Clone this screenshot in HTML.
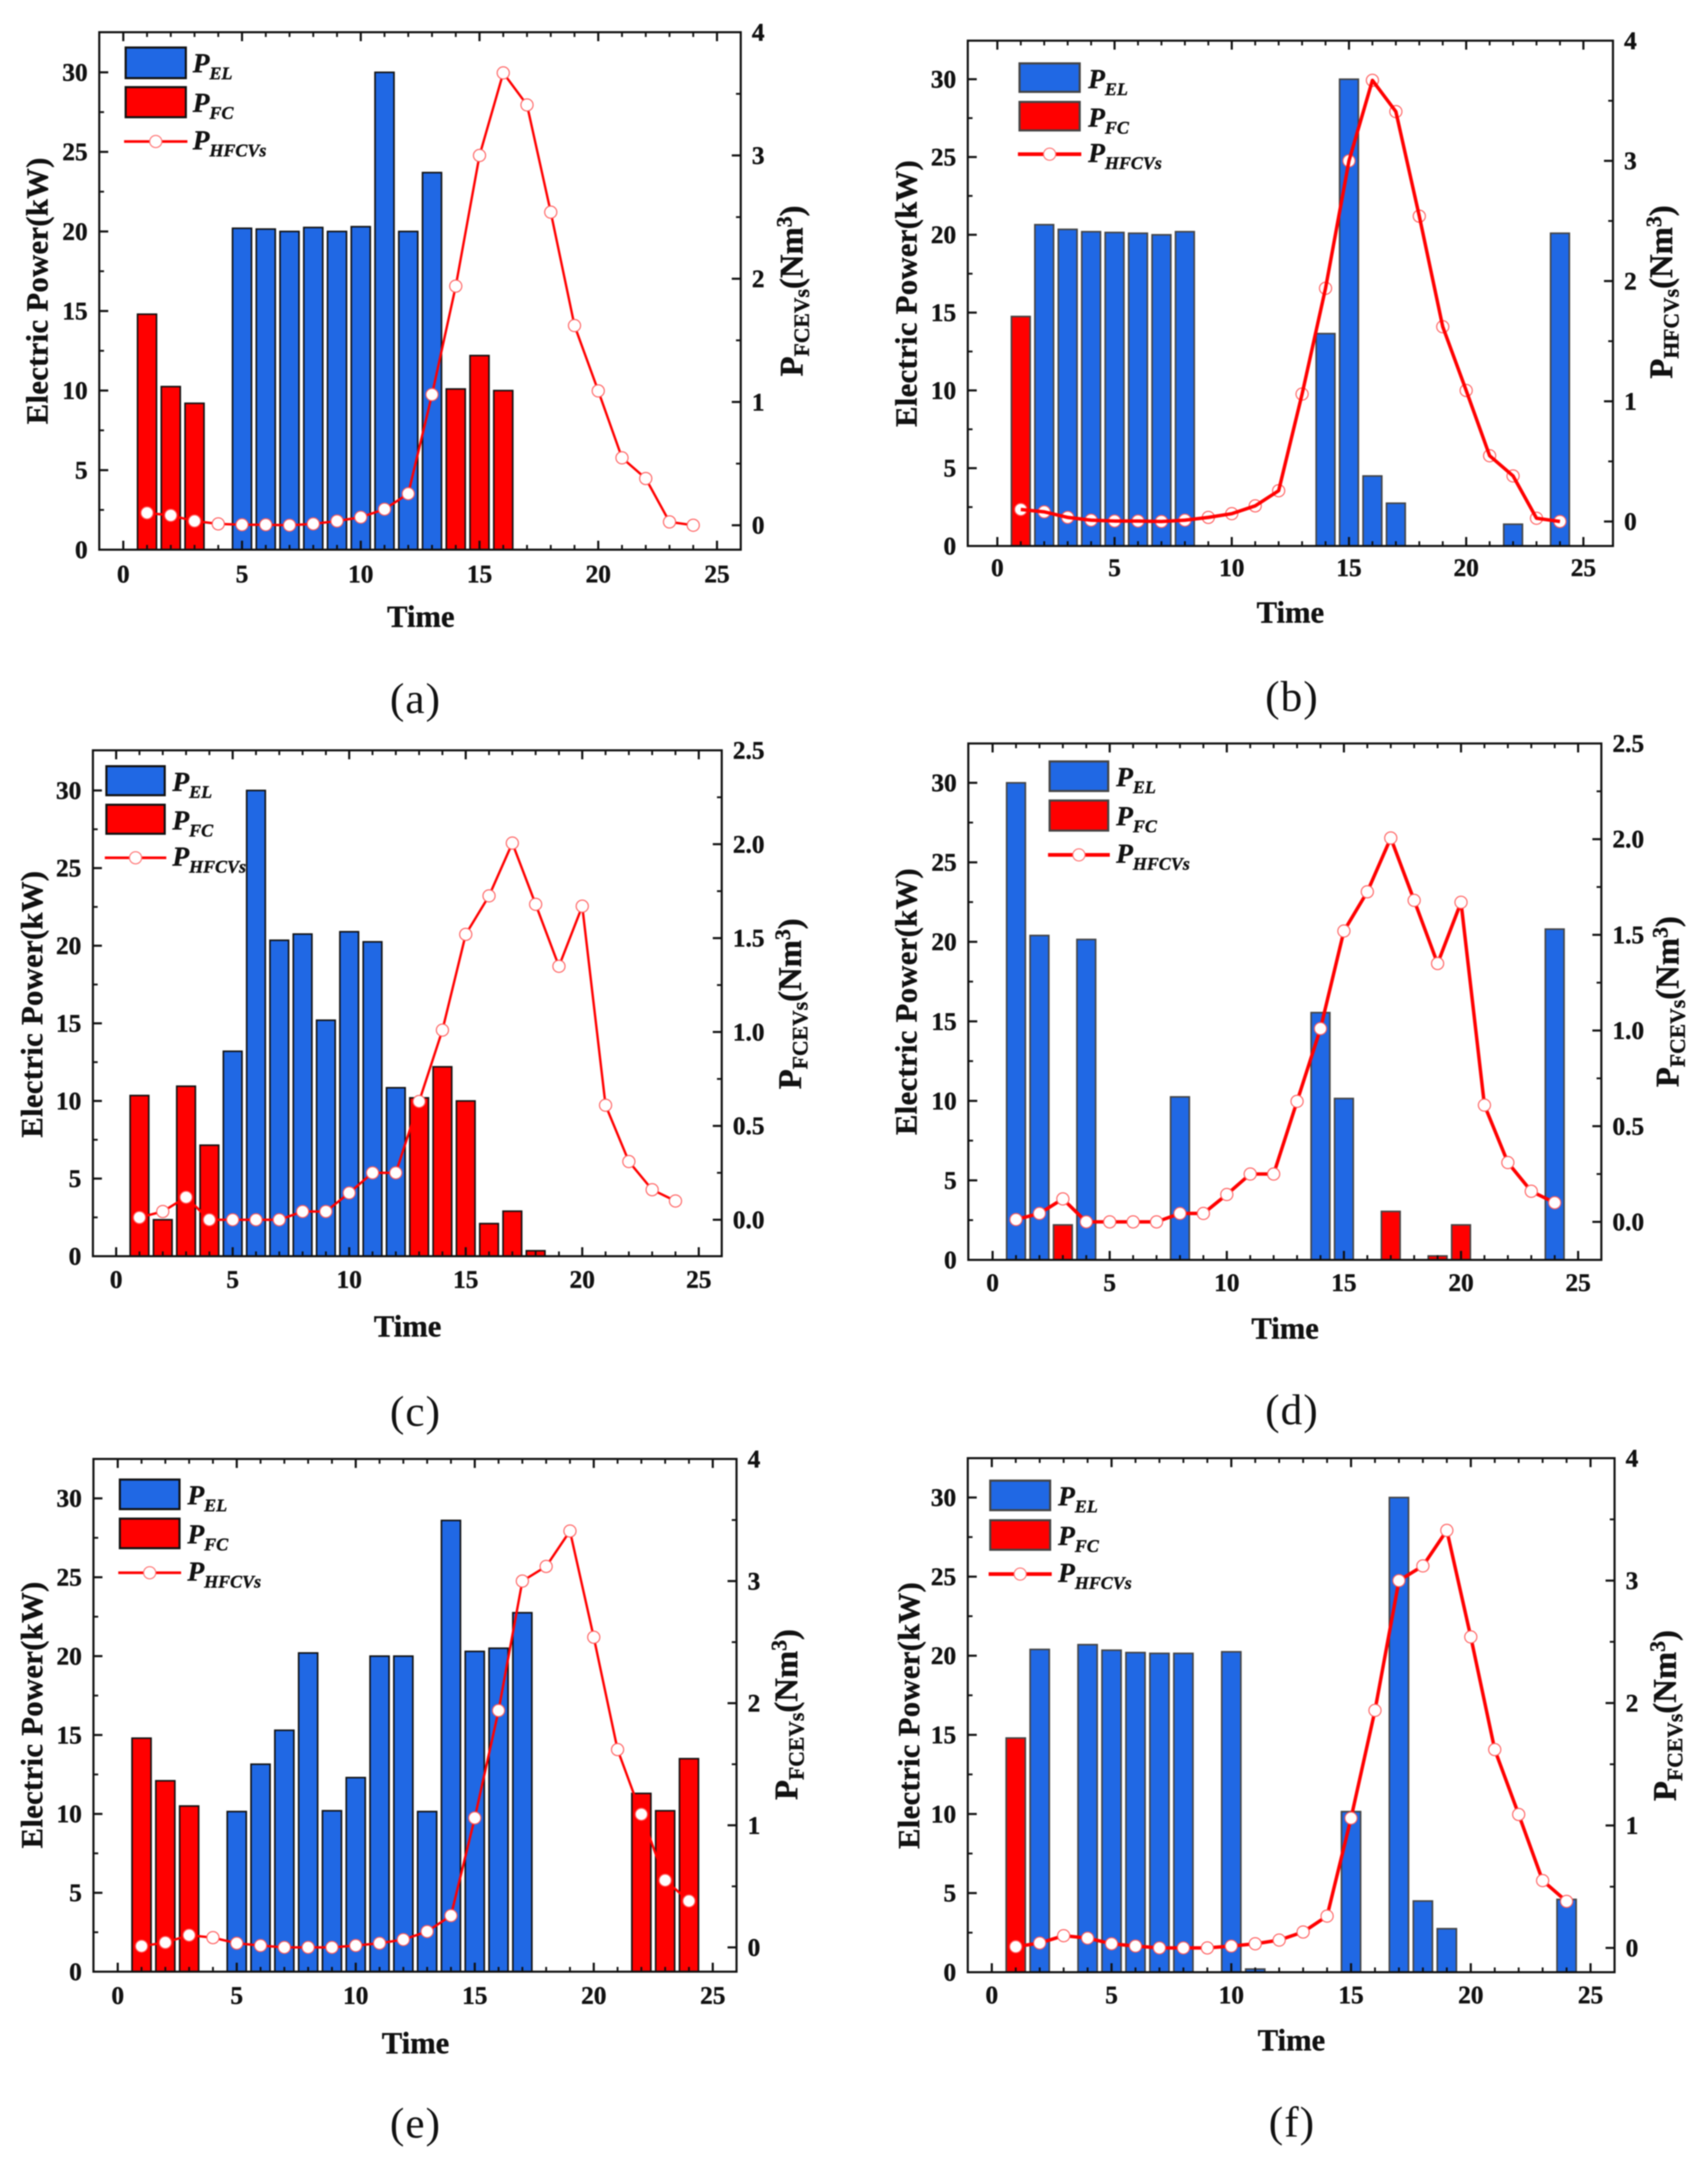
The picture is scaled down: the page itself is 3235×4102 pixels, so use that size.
<!DOCTYPE html>
<html lang="en">
<head>
<meta charset="utf-8">
<title>Electric power and hydrogen demand over time, panels a to f</title>
<style>
html,body{margin:0;padding:0;background:#fff;}
body{width:3235px;height:4102px;overflow:hidden;}
svg{display:block;}
text{font-family:"Liberation Serif",serif;fill:#111;}
text.bold{stroke:#111;stroke-width:0.7px;}
</style>
</head>
<body>
<svg id="figure" width="3235" height="4102" viewBox="0 0 3235 4102" xmlns="http://www.w3.org/2000/svg">
  <rect x="0" y="0" width="3235" height="4102" fill="#ffffff"/>
  <g id="wrap" style="filter:blur(1px)"></g>
</svg>
<script>
// Categories and tick labels
const hours = [1,2,3,4,5,6,7,8,9,10,11,12,13,14,15,16,17,18,19,20,21,22,23,24];
const xTickLabels = [0,5,10,15,20,25];
const leftTickLabels = [0,5,10,15,20,25,30];
const rightTickLabels4 = ["0","1","2","3","4"];
const rightTickLabels25 = ["0.0","0.5","1.0","1.5","2.0","2.5"];

// Panel (a)
const elA = [0,0,0,0,20.2,20.15,20.0,20.25,20.0,20.3,30,20,23.7,0,0,0,0,0,0,0,0,0,0,0];
const fcA = [14.8,10.25,9.2,0,0,0,0,0,0,0,0,0,0,10.1,12.2,10.0,0,0,0,0,0,0,0,0];
const h2A = [0.1,0.08,0.034,0.011,0.004,0.004,0,0.011,0.034,0.065,0.13,0.256,1.06,1.94,3.0,3.67,3.41,2.54,1.62,1.09,0.547,0.379,0.027,0];

// Panel (b)
const elB = [0,20.65,20.35,20.2,20.15,20.1,20.0,20.2,0,0,0,0,0,13.65,30,4.5,2.75,0,0,0,0,1.4,0,20.1];
const fcB = [14.75,0,0,0,0,0,0,0,0,0,0,0,0,0,0,0,0,0,0,0,0,0,0,0];
const h2B = [0.1,0.08,0.034,0.011,0.004,0.004,0,0.011,0.034,0.065,0.13,0.256,1.06,1.94,3.0,3.67,3.41,2.54,1.62,1.09,0.547,0.379,0.027,0];

// Panel (c)
const elC = [0,0,0,0,13.2,30,20.35,20.75,15.2,20.9,20.25,10.85,0,0,0,0,0,0,0,0,0,0,0,0];
const fcC = [10.35,2.35,10.95,7.15,0,0,0,0,0,0,0,0,10.2,12.2,10.0,2.1,2.9,0.35,0,0,0,0,0,0];
const h2C = [0.012,0.044,0.12,0,0,0,0,0.044,0.044,0.143,0.25,0.25,0.63,1.01,1.52,1.725,2.006,1.68,1.35,1.67,0.61,0.31,0.16,0.10];

// Panel (d)
const elD = [30,20.4,0,20.15,0,0,0,10.25,0,0,0,0,0,15.55,10.15,0,0,0,0,0,0,0,0,20.8];
const fcD = [0,0,2.2,0,0,0,0,0,0,0,0,0,0,0,0,0,3.05,0,0.25,2.2,0,0,0,0];
const h2D = [0.012,0.044,0.12,0,0,0,0,0.044,0.044,0.143,0.25,0.25,0.63,1.01,1.52,1.725,2.006,1.68,1.35,1.67,0.61,0.31,0.16,0.10];

// Panel (e)
const elE = [0,0,0,0,10.15,13.15,15.3,20.2,10.2,12.3,20,20,10.15,28.6,20.3,20.5,22.75,0,0,0,0,0,0,0];
const fcE = [14.8,12.1,10.5,0,0,0,0,0,0,0,0,0,0,0,0,0,0,0,0,0,0,11.3,10.2,13.5];
const h2E = [0.01,0.04,0.10,0.08,0.034,0.015,0,0,0,0.015,0.034,0.064,0.13,0.26,1.06,1.94,3.0,3.12,3.41,2.54,1.62,1.09,0.55,0.38];

// Panel (f)
const elF = [0,20.4,0,20.7,20.35,20.2,20.15,20.15,0,20.25,0.2,0,0,0,10.15,0,30,4.5,2.75,0,0,0,0,4.6];
const fcF = [14.8,0,0,0,0,0,0,0,0,0,0,0,0,0,0,0,0,0,0,0,0,0,0,0];
const h2F = [0.01,0.04,0.10,0.08,0.034,0.015,0,0,0,0.015,0.034,0.064,0.13,0.26,1.06,1.94,3.0,3.12,3.41,2.54,1.62,1.09,0.55,0.38];

const NS = "http://www.w3.org/2000/svg";
const wrap = document.getElementById("wrap");

function make(tag, parent, attrs, content) {
  const el = document.createElementNS(NS, tag);
  for (const k in attrs) el.setAttribute(k, attrs[k]);
  if (content !== undefined) el.textContent = content;
  parent.appendChild(el);
  return el;
}

const panels = [
  {id:"a", el:elA, fc:fcA, h2:h2A, l:188, r:1403, t:61, b:1041, x0:233.5, x25:1358, y30:137, r0:994.7, rMax:4, rTicks:rightTickLabels4,
   leg:{x:238, x2:352, y1:90, y2:148, y3:165, y4:222, ly:268, tx:365}, capX:787, capY:1350, timeX:797, timeY:1187, tickY:1103, ltX:77, ltY:551, rtX:1506, rtY:551, rName:"FCEVs", thick:false, lineOnTop:false},
  {id:"b", el:elB, fc:fcB, h2:h2B, l:1833, r:3055, t:77, b:1034, x0:1889, x25:2999, y30:150, r0:987.6, rMax:4, rTicks:rightTickLabels4,
   leg:{x:1931, x2:2045, y1:120, y2:174, y3:193, y4:247, ly:292, tx:2061}, capX:2447, capY:1346, timeX:2444, timeY:1179, tickY:1091, ltX:1723, ltY:556, rtX:3153, rtY:553, rName:"HFCVs", thick:true, lineOnTop:true},
  {id:"c", el:elC, fc:fcC, h2:h2C, l:176, r:1367, t:1421, b:2379, x0:220, x25:1323.5, y30:1497, r0:2310, rMax:2.5, rTicks:rightTickLabels25,
   leg:{x:201.5, x2:312, y1:1451, y2:1506, y3:1524, y4:1579, ly:1624.5, tx:326.5}, capX:787, capY:2700, timeX:772, timeY:2531, tickY:2439, ltX:67, ltY:1902, rtX:1503, rtY:1901, rName:"FCEVs", thick:false, lineOnTop:false},
  {id:"d", el:elD, fc:fcD, h2:h2D, l:1834, r:3033, t:1408, b:2386, x0:1880, x25:2989, y30:1482.5, r0:2314, rMax:2.5, rTicks:rightTickLabels25,
   leg:{x:1988, x2:2099, y1:1442, y2:1498, y3:1516, y4:1573, ly:1619, tx:2114}, capX:2447, capY:2697, timeX:2434, timeY:2535, tickY:2445, ltX:1723, ltY:1897, rtX:3165, rtY:1897, rName:"FCEVs", thick:true, lineOnTop:false},
  {id:"e", el:elE, fc:fcE, h2:h2E, l:177, r:1395, t:2763, b:3734, x0:223, x25:1350, y30:2837.6, r0:3688, rMax:4, rTicks:rightTickLabels4,
   leg:{x:227, x2:340, y1:2802, y2:2858, y3:2876, y4:2932, ly:2978.5, tx:355}, capX:787, capY:4048, timeX:787, timeY:3888.5, tickY:3795, ltX:67, ltY:3248, rtX:1496, rtY:3247, rName:"FCEVs", thick:false, lineOnTop:false},
  {id:"f", el:elF, fc:fcF, h2:h2F, l:1833, r:3058, t:2761.5, b:3735, x0:1878.5, x25:3012.5, y30:2836, r0:3689, rMax:4, rTicks:rightTickLabels4,
   leg:{x:1875.5, x2:1989, y1:2804, y2:2860, y3:2879, y4:2935, ly:2981, tx:2004}, capX:2447, capY:4046, timeX:2446, timeY:3883, tickY:3794, ltX:1728, ltY:3249, rtX:3160, rtY:3249, rName:"FCEVs", thick:true, lineOnTop:false}
];

const BLUE = "#2068e4";
const RED = "#ff0000";
const INK = "#111111";

function drawBars(g, p, values, color, xS, yL, seriesName) {
  const barEdge = p.thick ? "#444444" : "#111111";
  values.forEach(function (v, i) {
    if (v <= 0) return;
    const cx = xS(hours[i]);
    const w = (p.x25 - p.x0) / 25 * 0.8;
    const bar = make("rect", g, {x: cx - w / 2, y: yL(v), width: w, height: yL(0) - yL(v), fill: color, stroke: barEdge, "stroke-width": 3});
    
    
  });
}

function tick(g, x1, y1, x2, y2, w, name) {
  const t = make("line", g, {x1: x1, y1: y1, x2: x2, y2: y2, stroke: INK, "stroke-width": w});
  
  
}

function drawPanel(p) {
  const g = make("g", wrap, {});
  
  

  const xS = function (v) { return p.x0 + v * (p.x25 - p.x0) / 25; };
  const yL = function (v) { return p.b - v * (p.b - p.y30) / 30; };
  const yR = function (v) { return p.r0 - v * (p.r0 - p.t) / p.rMax; };

  drawBars(g, p, p.el, BLUE, xS, yL, 'pel');
  drawBars(g, p, p.fc, RED, xS, yL, 'pfc');

  // Hydrogen line and markers
  const lineW = p.thick ? 6.5 : 4.5;
  const pts = p.h2.map(function (v, i) { return xS(hours[i]) + "," + yR(v); }).join(" ");
  const drawLine = function () {
    const line = make("polyline", g, {points: pts, fill: "none", stroke: RED, "stroke-width": lineW, "stroke-linejoin": "round"});
    
    
  };
  if (!p.lineOnTop) drawLine();
  p.h2.forEach(function (v, i) {
    const m = make("circle", g, {cx: xS(hours[i]), cy: yR(v), r: 11.5, fill: "#ffffff", stroke: "#ff5a5a", "stroke-width": 2});
    
    
  });
  if (p.lineOnTop) drawLine();

  // Frame
  const frame = make("rect", g, {x: p.l, y: p.t, width: p.r - p.l, height: p.b - p.t, fill: "none", stroke: INK, "stroke-width": 4});
  
  

  // X ticks, major on the labelled values, minor at every unit
  for (let u = 0; u <= 25; u++) {
    const major = xTickLabels.indexOf(u) >= 0;
    const len = major ? 17 : 9;
    const w = major ? 4 : 3.5;
    tick(g, xS(u), p.b, xS(u), p.b - len, w, 'x-tick-bottom');
    tick(g, xS(u), p.t, xS(u), p.t + len, w, 'x-tick-top');
  }
  xTickLabels.forEach(function (v) {
    const t = make("text", g, {class: "bold", x: xS(v), y: p.tickY, "text-anchor": "middle", "font-size": 48, "font-weight": "bold"}, String(v));
    
    
  });

  // Left axis ticks
  leftTickLabels.forEach(function (v, i) {
    tick(g, p.l, yL(v), p.l + 17, yL(v), 4, 'left-major-tick');
    if (i < leftTickLabels.length - 1) {
      const mid = (v + leftTickLabels[i + 1]) / 2;
      tick(g, p.l, yL(mid), p.l + 9, yL(mid), 3.5, 'left-minor-tick');
    }
    const t = make("text", g, {class: "bold", x: p.l - 22, y: yL(v) + 16, "text-anchor": "end", "font-size": 48, "font-weight": "bold"}, String(v));
    
    
  });

  // Right axis ticks
  p.rTicks.forEach(function (lab, i) {
    const v = parseFloat(lab);
    tick(g, p.r, yR(v), p.r - 17, yR(v), 4, 'right-major-tick');
    if (i < p.rTicks.length - 1) {
      const mid = (v + parseFloat(p.rTicks[i + 1])) / 2;
      tick(g, p.r, yR(mid), p.r - 9, yR(mid), 3.5, 'right-minor-tick');
    }
    const t = make("text", g, {class: "bold", x: p.r + 21, y: yR(v) + 16, "text-anchor": "start", "font-size": 48, "font-weight": "bold"}, lab);
    
    
  });

  // Axis titles
  const xt = make("text", g, {class: "bold", x: p.timeX, y: p.timeY, "text-anchor": "middle", "font-size": 58, "font-weight": "bold"}, "Time");
  
  

  const lt = make("text", g, {class: "bold", x: p.ltX + 13, y: p.ltY, "text-anchor": "middle", "font-size": 58, "font-weight": "bold", "textLength": 505, "lengthAdjust": "spacing", transform: "rotate(-90 " + (p.ltX + 13) + " " + p.ltY + ")"}, "Electric Power(kW)");
  
  

  const rt = make("text", g, {class: "bold", x: p.rtX + 14, y: p.rtY, "text-anchor": "middle", "font-size": 62, "font-weight": "bold", transform: "rotate(-90 " + (p.rtX + 14) + " " + p.rtY + ")"});
  
  
  make("tspan", rt, {}, "P");
  make("tspan", rt, {dy: 12, "font-size": 41}, p.rName);
  make("tspan", rt, {dy: -12}, "(Nm");
  make("tspan", rt, {dy: -21, "font-size": 41}, "3");
  make("tspan", rt, {dy: 21}, ")");

  // Legend
  const L = p.leg;
  const legendEdge = p.thick ? "#444444" : "#111111";
  const s1 = make("rect", g, {x: L.x, y: L.y1, width: L.x2 - L.x, height: L.y2 - L.y1, fill: BLUE, stroke: legendEdge, "stroke-width": 4});
  
  
  const s2 = make("rect", g, {x: L.x, y: L.y3, width: L.x2 - L.x, height: L.y4 - L.y3, fill: RED, stroke: legendEdge, "stroke-width": 4});
  
  
  const s3 = make("line", g, {x1: L.x - 3, y1: L.ly, x2: L.x2 + 3, y2: L.ly, stroke: RED, "stroke-width": lineW + 0.5});
  
  
  const s4 = make("circle", g, {cx: (L.x + L.x2) / 2, cy: L.ly, r: 11.5, fill: "#ffffff", stroke: "#ff7070", "stroke-width": 2});
  
  

  const names = ["EL", "FC", "HFCVs"];
  const baselines = [L.y1 + 47, L.y3 + 47, L.ly + 15];
  names.forEach(function (n, i) {
    const t = make("text", g, {class: "bold", x: L.tx, y: baselines[i], "font-size": 52, "font-weight": "bold", "font-style": "italic"});
    
    
    make("tspan", t, {}, "P");
    make("tspan", t, {dy: 13, "font-size": 34}, n);
  });

  // Caption
  const cap = make("text", g, {x: p.capX, y: p.capY, "text-anchor": "middle", "font-size": 82, "letter-spacing": "2"}, "(" + p.id + ")");
  
  
}

panels.forEach(drawPanel);
</script>
</body>
</html>
